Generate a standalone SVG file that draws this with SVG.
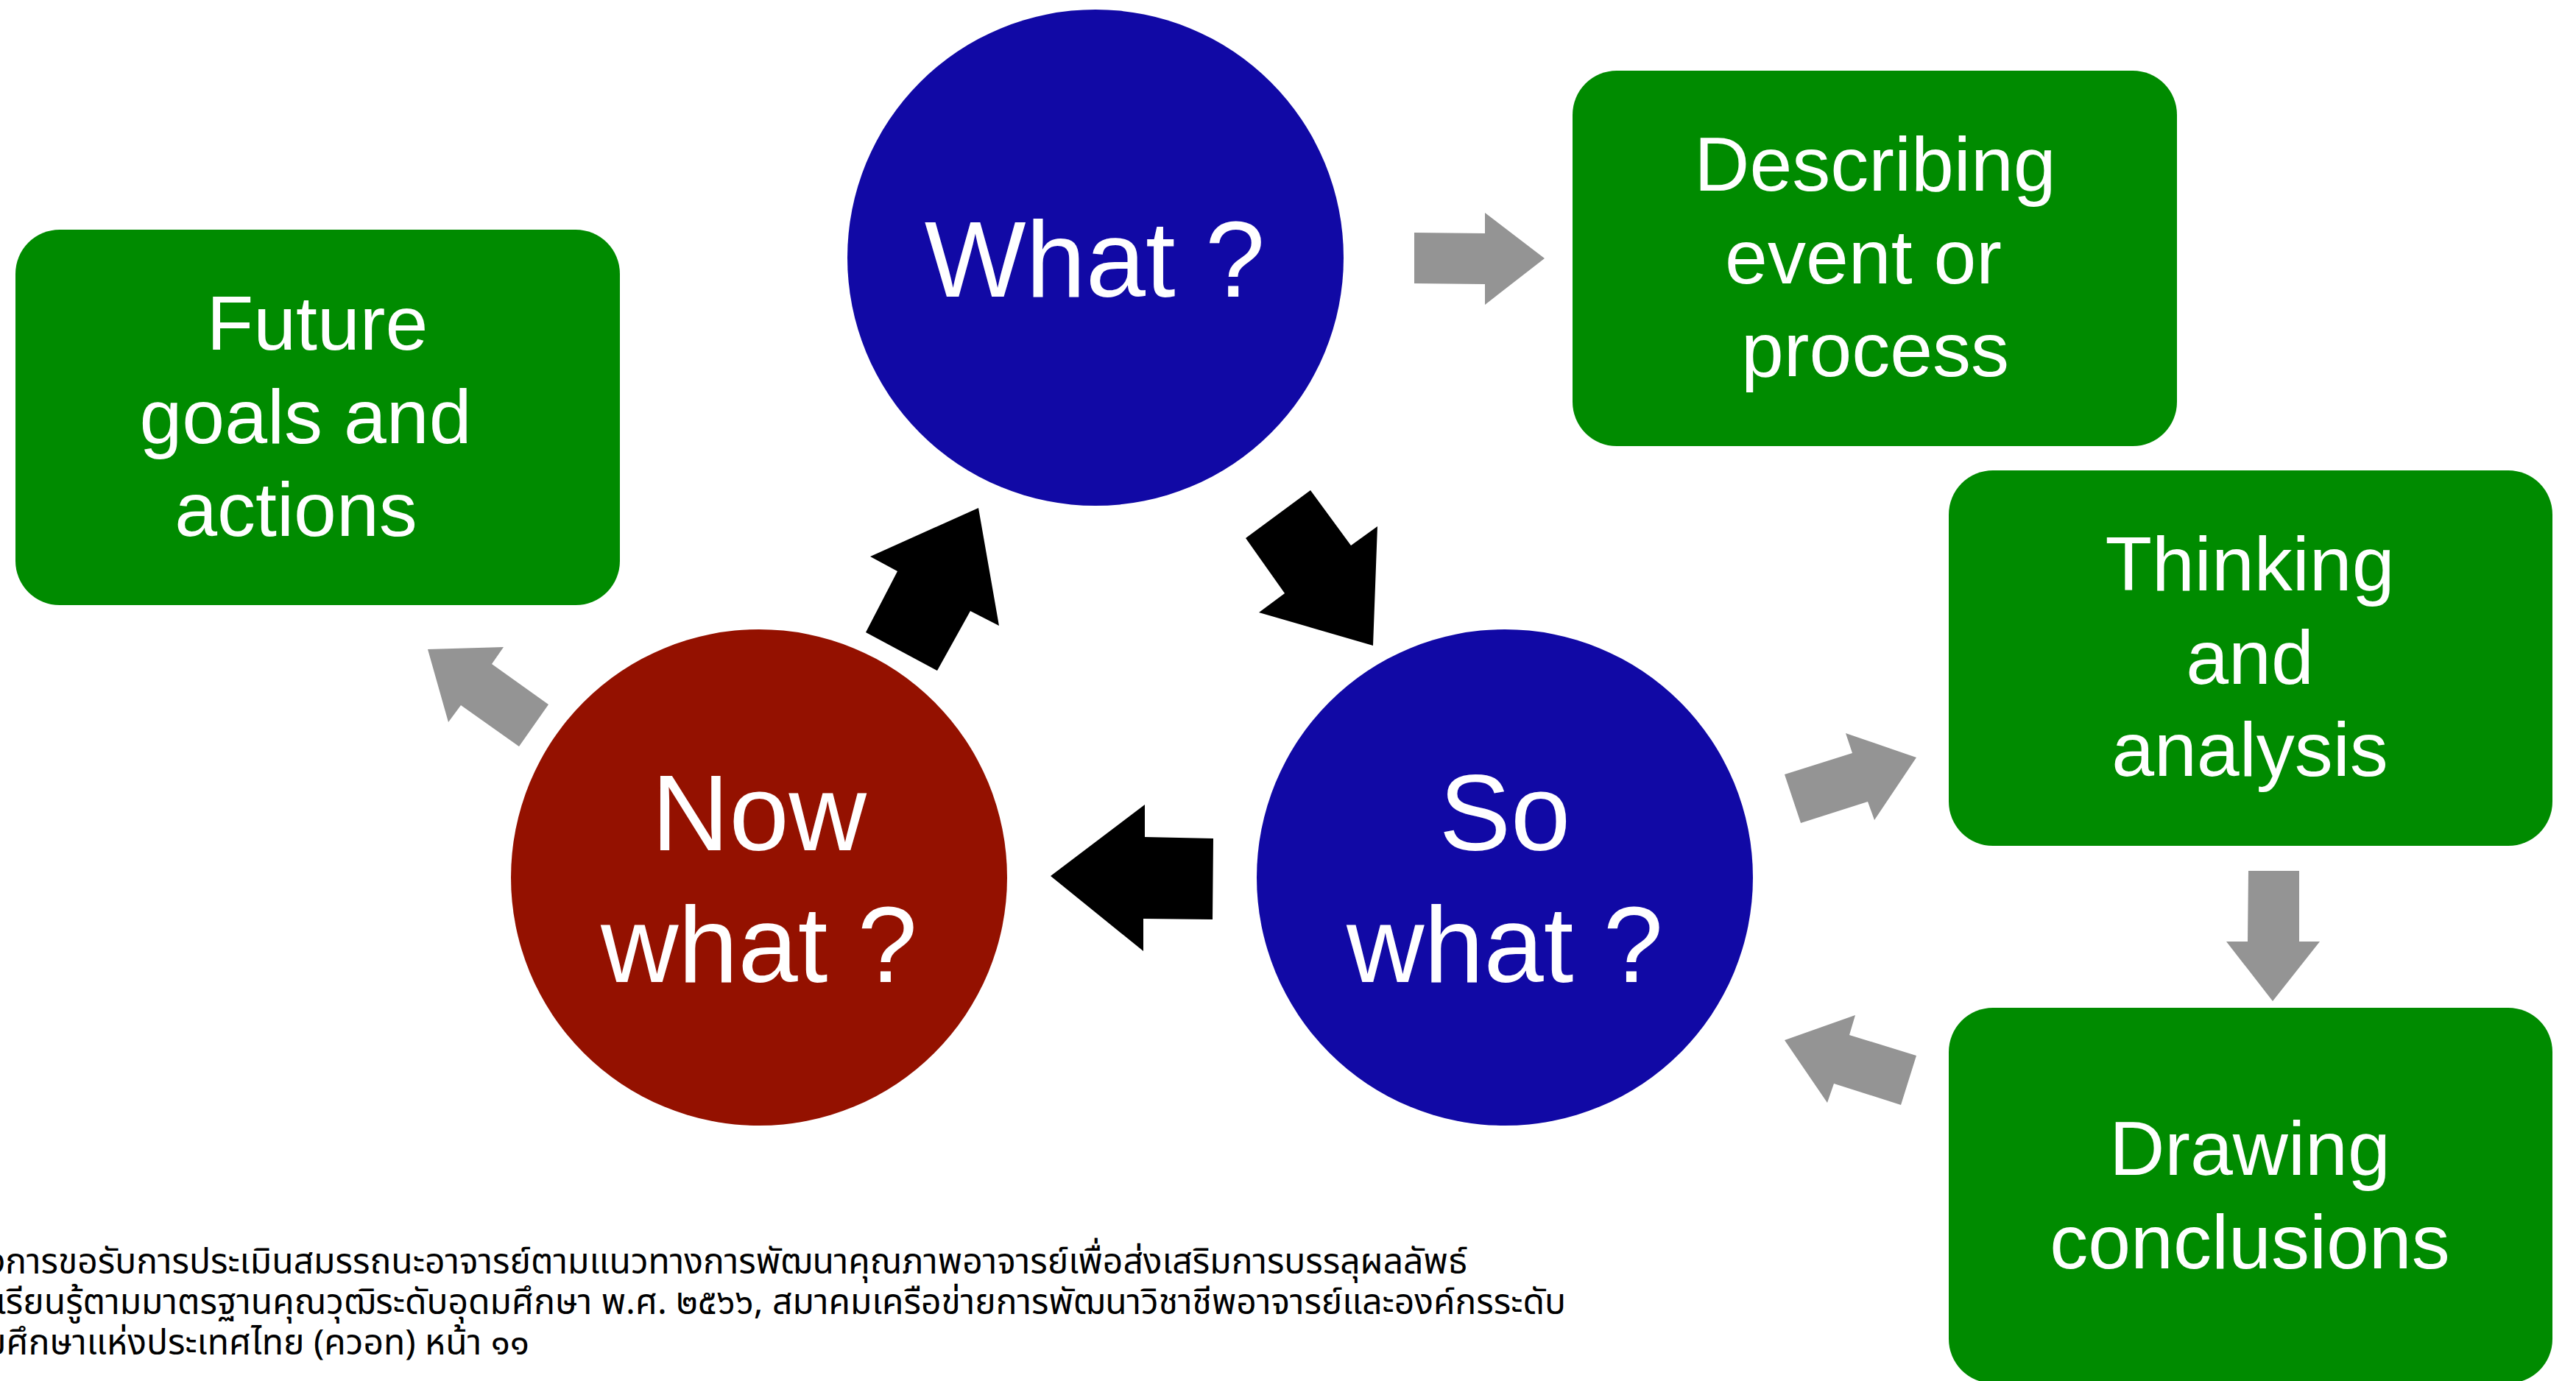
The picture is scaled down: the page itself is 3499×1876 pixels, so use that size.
<svg xmlns="http://www.w3.org/2000/svg" width="3499" height="1876" viewBox="0 0 3499 1876">
<style>
.blue{fill:#1109a5}
.red{fill:#941100}
.box{fill:#008b00}
.big{font-family:"Liberation Sans",Arial,sans-serif;font-size:146px;fill:#fff;text-anchor:middle}
.lbl{font-family:"Liberation Sans",Arial,sans-serif;font-size:104px;fill:#fff;text-anchor:middle}
.thai{font-family:"Noto Sans Thai","Noto Sans","DejaVu Sans",sans-serif;font-size:48px;fill:#000;text-anchor:end}
.gray{fill:#949494}
.blk{fill:#000}
</style>
<rect width="3499" height="1876" fill="#fff"/>
<g id="connectors">
<polygon class="gray" points="1921,316 2017,317 2017,289 2098,351 2017,414 2017,386 1921,385"/>
<polygon class="blk" points="1692,731 1780,666 1835,741 1871,715 1865,877 1710,832 1745,806"/>
<polygon class="blk" points="1427,1190 1555,1093 1555,1137 1648,1139 1647,1249 1553,1248 1553,1292"/>
<polygon class="blk" points="1176,859 1219,776 1182,756 1329,690 1357,850 1318,830 1273,911"/>
<polygon class="gray" points="581,882 684,879 668,902 745,957 705,1014 626,958 609,981"/>
<polygon class="gray" points="2424,1052 2516,1023 2507,996 2603,1029 2546,1114 2537,1089 2446,1118"/>
<polygon class="gray" points="3054,1183 3123,1183 3123,1279 3151,1279 3087,1360 3024,1279 3053,1279"/>
<polygon class="gray" points="2424,1413 2520,1379 2512,1406 2603,1434 2582,1501 2491,1472 2482,1498"/>
</g>
<g id="what">
<circle class="blue" cx="1488" cy="350" r="337"/>
<text class="big" x="1487" y="403">What ?</text>
</g>
<g id="so-what">
<circle class="blue" cx="2044" cy="1192" r="337"/>
<text class="big" x="2044" y="1155">So</text>
<text class="big" x="2044" y="1334">what ?</text>
</g>
<g id="now-what">
<circle class="red" cx="1031" cy="1192" r="337"/>
<text class="big" x="1031" y="1155">Now</text>
<text class="big" x="1031" y="1334">what ?</text>
</g>
<g id="future">
<rect class="box" x="21" y="312" width="821" height="510" rx="60" ry="60"/>
<text class="lbl" x="431" y="475">Future</text>
<text class="lbl" x="415" y="602">goals and</text>
<text class="lbl" x="402" y="728">actions</text>
</g>
<g id="describing">
<rect class="box" x="2136" y="96" width="821" height="510" rx="60" ry="60"/>
<text class="lbl" x="2547" y="259">Describing</text>
<text class="lbl" x="2531" y="385">event or</text>
<text class="lbl" x="2547" y="511">process</text>
</g>
<g id="thinking">
<rect class="box" x="2647" y="639" width="820" height="510" rx="60" ry="60"/>
<text class="lbl" x="3056" y="802">Thinking</text>
<text class="lbl" x="3056" y="929">and</text>
<text class="lbl" x="3056" y="1054">analysis</text>
</g>
<g id="drawing">
<rect class="box" x="2647" y="1369" width="820" height="510" rx="60" ry="60"/>
<text class="lbl" x="3056" y="1596">Drawing</text>
<text class="lbl" x="3056" y="1723">conclusions</text>
</g>
<g id="source">
<text class="thai" x="1993" y="1730">งการขอรับการประเมินสมรรถนะอาจารย์ตามแนวทางการพัฒนาคุณภาพอาจารย์เพื่อส่งเสริมการบรรลุผลลัพธ์</text>
<text class="thai" x="2127" y="1785">เรียนรู้ตามมาตรฐานคุณวุฒิระดับอุดมศึกษา พ.ศ. ๒๕๖๖, สมาคมเครือข่ายการพัฒนาวิชาชีพอาจารย์และองค์กรระดับ</text>
<text class="thai" x="719" y="1840">มศึกษาแห่งประเทศไทย (ควอท) หน้า ๑๑</text>
</g>
</svg>
